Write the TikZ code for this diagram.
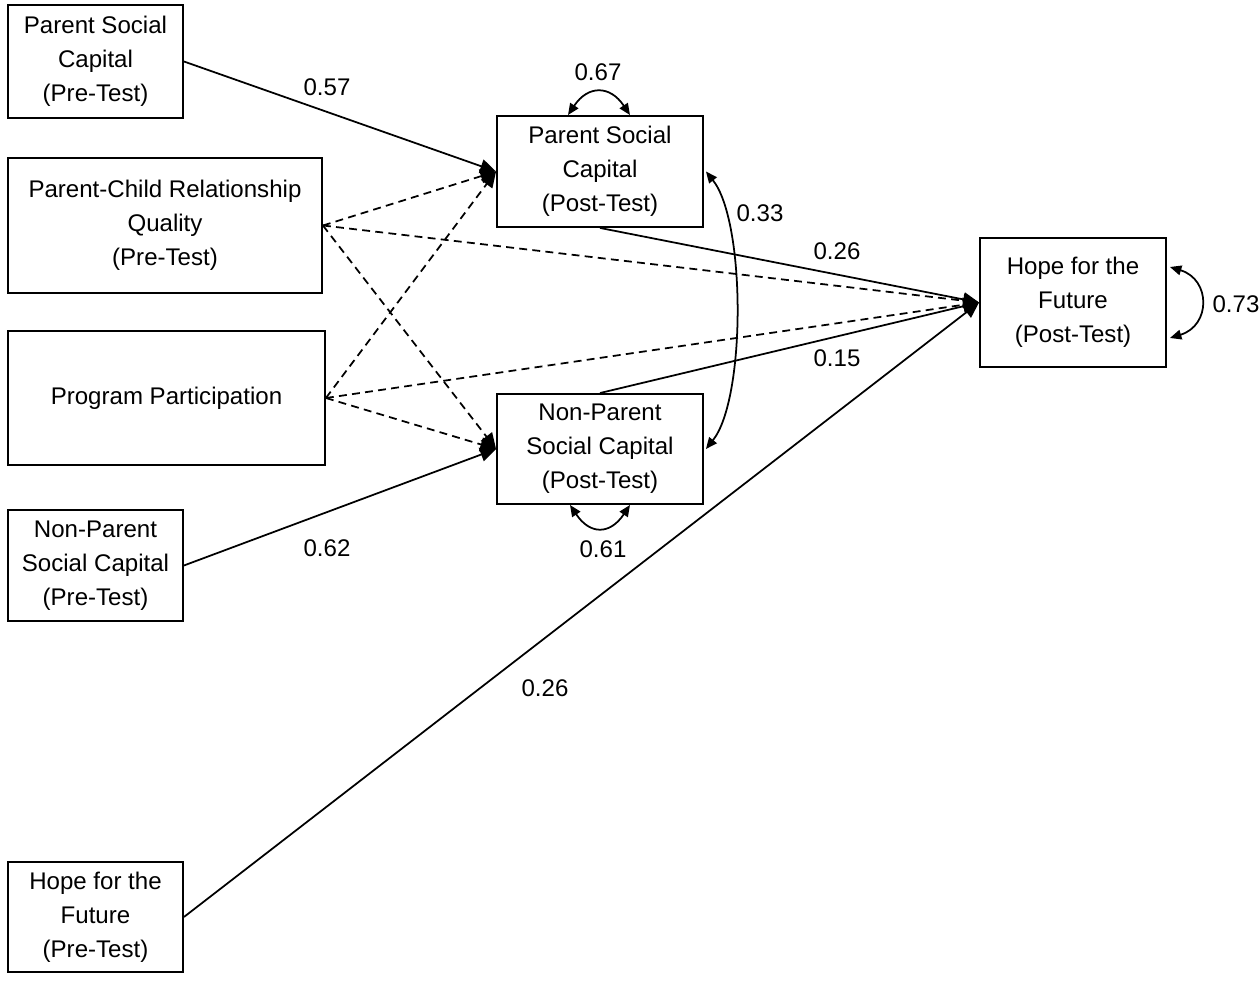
\documentclass[tikz,border=0pt]{standalone}
\usepackage{fontspec}
\setmainfont{Liberation Sans}
\usetikzlibrary{arrows.meta}
\begin{document}
\begin{tikzpicture}[x=0.02cm,y=-0.02cm,
  box/.style={draw, line width=1.1pt, inner sep=0pt, align=center,
    font=\fontsize{13.7}{19.3}\selectfont},
  lbl/.style={inner sep=0pt, font=\fontsize{13.7}{16}\selectfont},
  path/.style={line width=1pt, -{Triangle[length=9pt,width=8pt]}},
  dpath/.style={path, dash pattern=on 4.5pt off 3pt},
  cov/.style={line width=1pt, {Triangle[length=6.5pt,width=5.5pt]}-{Triangle[length=6.5pt,width=5.5pt]}}]
\useasboundingbox (0,0) rectangle (1259,982);
% boxes
\node[box, minimum width=3.5cm, minimum height=2.26cm] (A) at (95.5,61.5) {Parent Social\\Capital\\(Pre-Test)};
\node[box, minimum width=6.28cm, minimum height=2.7cm] (B) at (165,225.5) {Parent-Child Relationship\\Quality\\(Pre-Test)};
\node[box, minimum width=6.34cm, minimum height=2.68cm] (C) at (166.5,398) {Program Participation};
\node[box, minimum width=3.5cm, minimum height=2.22cm] (D) at (95.5,565.5) {Non-Parent\\Social Capital\\(Pre-Test)};
\node[box, minimum width=3.5cm, minimum height=2.2cm] (E) at (95.5,917) {Hope for the\\Future\\(Pre-Test)};
\node[box, minimum width=4.12cm, minimum height=2.22cm] (F) at (600,171.5) {Parent Social\\Capital\\(Post-Test)};
\node[box, minimum width=4.12cm, minimum height=2.2cm] (G) at (600,449) {Non-Parent\\Social Capital\\(Post-Test)};
\node[box, minimum width=3.72cm, minimum height=2.58cm] (H) at (1073,302.5) {Hope for the\\Future\\(Post-Test)};
% dashed paths
\draw[dpath] (B.east) -- (F.west);
\draw[dpath] (B.east) -- (G.west);
\draw[dpath] (B.east) -- (H.west);
\draw[dpath] (C.east) -- (F.west);
\draw[dpath] (C.east) -- (G.west);
\draw[dpath] (C.east) -- (H.west);
% solid paths
\draw[path] (A.east) -- (F.west);
\draw[path] (D.east) -- (G.west);
\draw[path] (E.east) -- (H.west);
\draw[path] (F.south) -- (H.west);
\draw[path] (G.north) -- (H.west);
% covariances / variances
\draw[cov] ([xshift=-0.64cm]F.north) .. controls +(0.4cm,0.6cm) and +(-0.4cm,0.6cm) .. ([xshift=0.6cm]F.north);
\draw[cov] ([xshift=-0.6cm]G.south) .. controls +(0.4cm,-0.6cm) and +(-0.4cm,-0.6cm) .. ([xshift=0.6cm]G.south);
\draw[cov] ([xshift=0.04cm]F.east) .. controls +(0.8cm,-1.0cm) and +(0.8cm,1.0cm) .. ([xshift=0.04cm]G.east);
\draw[cov] ([xshift=0.06cm,yshift=0.71cm]H.east) .. controls +(0.82cm,-0.25cm) and +(0.82cm,0.25cm) .. ([xshift=0.06cm,yshift=-0.71cm]H.east);
% labels
\node[lbl] (l1) at (327,87) {0.57};
\node[lbl] (l2) at (598,72) {0.67};
\node[lbl] (l3) at (760,213) {0.33};
\node[lbl] (l4) at (837,251) {0.26};
\node[lbl] (l5) at (837,358) {0.15};
\node[lbl] (l6) at (1236,304) {0.73};
\node[lbl] (l7) at (327,548) {0.62};
\node[lbl] (l8) at (603,549) {0.61};
\node[lbl] (l9) at (545,688) {0.26};
\end{tikzpicture}
\end{document}
